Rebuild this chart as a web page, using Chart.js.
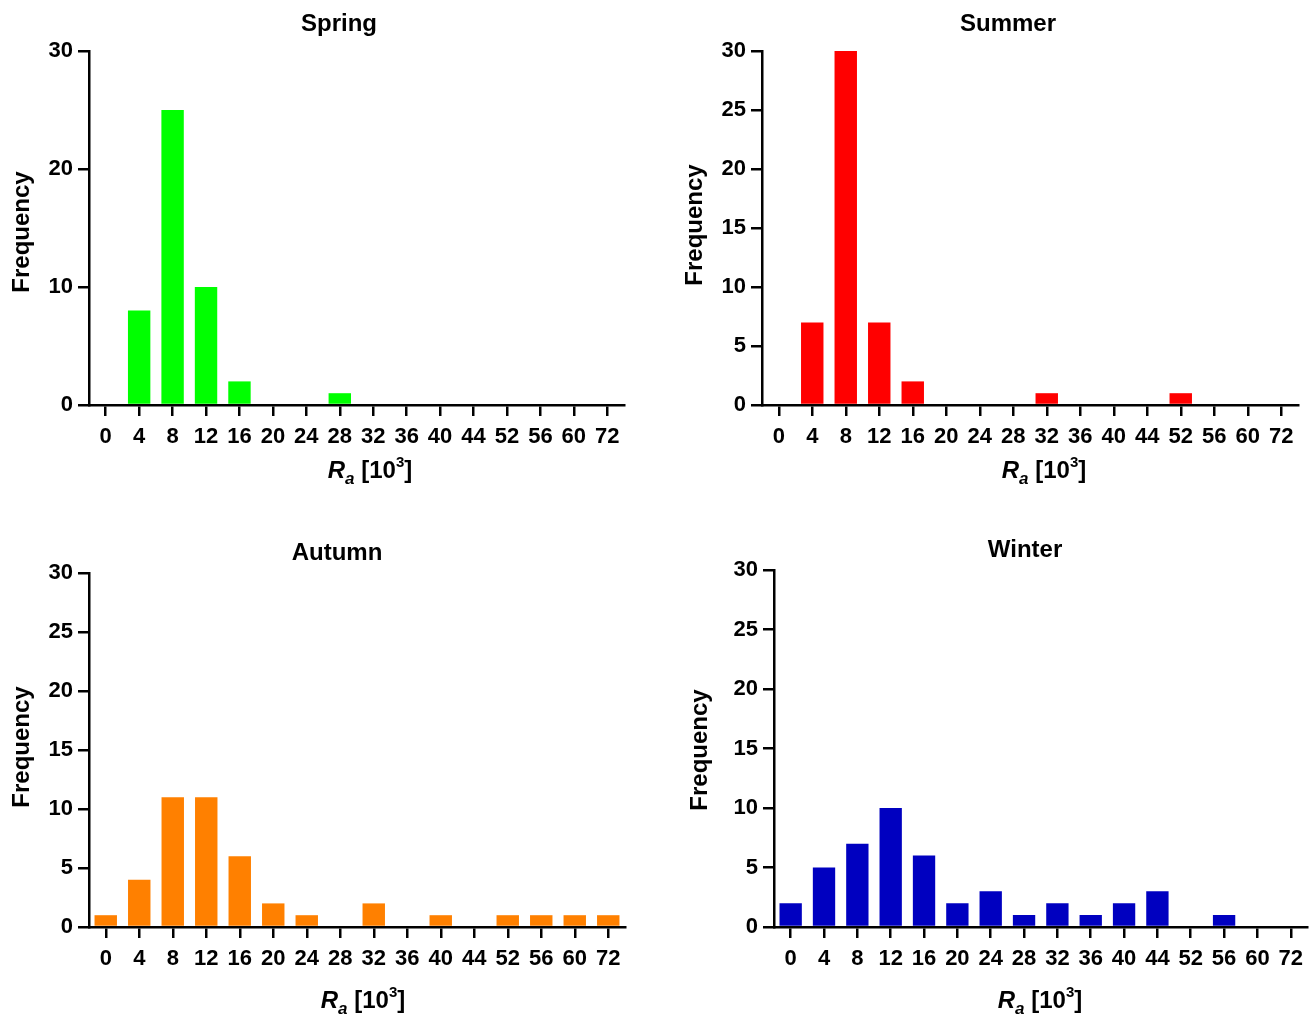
<!DOCTYPE html>
<html>
<head>
<meta charset="utf-8">
<script src="https://cdn.jsdelivr.net/npm/chart.js@4.4.1/dist/chart.umd.min.js"></script>
<style>
  html,body{margin:0;padding:0;background:#fff;}
  #wrap{position:relative;width:1311px;height:1015px;overflow:hidden;}
  canvas{position:absolute;}
</style>
</head>
<body>
<div id="wrap">
  <canvas id="spring" width="655" height="500" style="left:0;top:0"></canvas>
  <canvas id="summer" width="656" height="500" style="left:655px;top:0"></canvas>
  <canvas id="autumn" width="655" height="515" style="left:0;top:500px"></canvas>
  <canvas id="winter" width="656" height="515" style="left:655px;top:500px"></canvas>
</div>
<script>
// data
const categories = ['0','4','8','12','16','20','24','28','32','36','40','44','52','56','60','72'];
const springValues = [0,8,25,10,2,0,0,1,0,0,0,0,0,0,0,0];
const summerValues = [0,7,30,7,2,0,0,0,1,0,0,0,1,0,0,0];
const autumnValues = [1,4,11,11,6,2,1,0,2,0,1,0,1,1,1,1];
const winterValues = [2,5,7,10,6,2,3,1,2,1,2,3,0,1,0,0];
const springTicks = [0,10,20,30];
const otherTicks = [0,5,10,15,20,25,30];

const FONT = '"Liberation Sans", Arial, Helvetica, sans-serif';

// titles + axis labels drawn on the canvas (x label needs sub/superscript)
const panelText = {
  id:'panelText',
  afterDraw(chart){
    const o = chart.options.plugins.panelText;
    const ctx = chart.ctx;
    ctx.save();
    ctx.fillStyle = '#000';
    ctx.textAlign = 'center';
    ctx.textBaseline = 'middle';
    ctx.font = 'bold 24px ' + FONT;
    ctx.fillText(o.title, o.titleX, o.titleY);
    ctx.save();
    ctx.translate(o.yTitleX, o.yTitleY);
    ctx.rotate(-Math.PI/2);
    ctx.fillText('Frequency', 0, 0);
    ctx.restore();
    const parts = [
      {t:'R', f:'italic bold 24px', dy:0},
      {t:'a', f:'italic bold 17px', dy:6},
      {t:' [10', f:'bold 24px', dy:0},
      {t:'3', f:'bold 15px', dy:-11},
      {t:']', f:'bold 24px', dy:0}
    ];
    ctx.textAlign = 'left';
    ctx.textBaseline = 'alphabetic';
    let w = 0;
    parts.forEach(p=>{ ctx.font = p.f + ' ' + FONT; p.w = ctx.measureText(p.t).width; w += p.w; });
    let x = o.xTitleX - w/2;
    parts.forEach(p=>{ ctx.font = p.f + ' ' + FONT; ctx.fillText(p.t, x, o.xTitleY + 8 + p.dy); x += p.w; });
    ctx.restore();
  }
};

const panels = [
  {id:'spring', title:'Spring', values:springValues, color:'#00ff00', yTicks:springTicks,
   yw:89, top:51, right:31, xh:95, titleX:339, titleY:24, yTitleX:22, yTitleY:232, xTitleX:370, xTitleY:470},
  {id:'summer', title:'Summer', values:summerValues, color:'#ff0000', yTicks:otherTicks,
   yw:107, top:51, right:13, xh:95, titleX:353, titleY:24, yTitleX:40, yTitleY:225, xTitleX:389, xTitleY:470},
  {id:'autumn', title:'Autumn', values:autumnValues, color:'#ff8000', yTicks:otherTicks,
   yw:89, top:73, right:30, xh:88, titleX:337, titleY:53, yTitleX:22, yTitleY:247, xTitleX:363, xTitleY:500},
  {id:'winter', title:'Winter', values:winterValues, color:'#0000c0', yTicks:otherTicks,
   yw:119, top:70, right:0, xh:88, titleX:370, titleY:50, yTitleX:45, yTitleY:250, xTitleX:385, xTitleY:500}
];

panels.forEach(p=>{
  const tickFont = {family:FONT, weight:'bold', size:22};
  new Chart(document.getElementById(p.id), {
    type:'bar',
    data:{labels:categories, datasets:[{data:p.values, backgroundColor:p.color, borderWidth:0,
      categoryPercentage:1, barPercentage:0.67}]},
    options:{
      responsive:false, animation:false,
      layout:{padding:{left:0, top:p.top, right:p.right, bottom:0}},
      plugins:{legend:{display:false}, tooltip:{enabled:false}, title:{display:false},
        panelText:{title:p.title, titleX:p.titleX, titleY:p.titleY, yTitleX:p.yTitleX, yTitleY:p.yTitleY,
          xTitleX:p.xTitleX, xTitleY:p.xTitleY}},
      scales:{
        x:{
          offset:true,
          grid:{display:true, drawOnChartArea:false, drawTicks:true, tickLength:11, offset:false, color:'#000', lineWidth:2.5},
          border:{display:true, color:'#000', width:2.5},
          ticks:{color:'#000', font:tickFont, padding:8, maxRotation:0, autoSkip:false},
          afterFit: s=>{ s.height = p.xh; }
        },
        y:{
          min:0, max:30,
          grid:{drawOnChartArea:false, drawTicks:true, tickLength:11, color:'#000', lineWidth:2.5},
          border:{display:true, color:'#000', width:2.5},
          ticks:{color:'#000', font:tickFont, padding:5},
          afterBuildTicks: s=>{ s.ticks = p.yTicks.map(v=>({value:v})); },
          afterFit: s=>{ s.width = p.yw; }
        }
      }
    },
    plugins:[panelText]
  });
});
</script>
</body>
</html>
